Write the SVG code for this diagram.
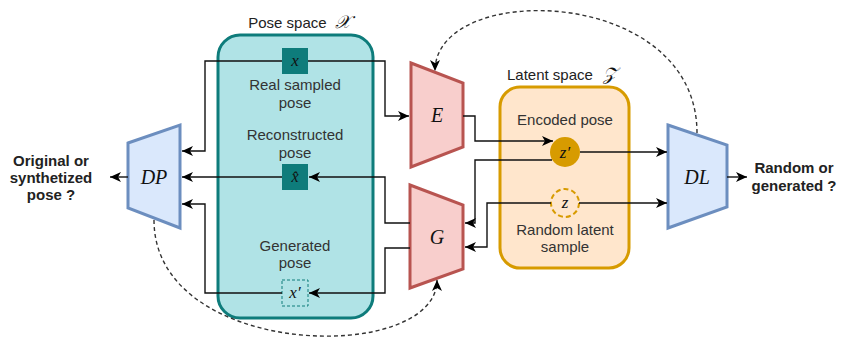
<svg xmlns="http://www.w3.org/2000/svg" width="846" height="344" viewBox="0 0 846 344">
<defs>
<marker id="arr" markerUnits="userSpaceOnUse" markerWidth="12" markerHeight="10" refX="11" refY="5" orient="auto">
<path d="M0,0 L11,5 L0,10 L3,5 Z" fill="#000"/>
</marker>
</defs>
<style>
.lbl{font-family:"Liberation Sans",Arial,sans-serif;font-size:15px;fill:#333;text-anchor:middle}
.ttl{font-family:"Liberation Sans",Arial,sans-serif;font-size:15px;fill:#222;text-anchor:middle}
.out{font-family:"Liberation Sans",Arial,sans-serif;font-size:15px;font-weight:bold;fill:#222;text-anchor:middle}
.math{font-family:"Liberation Serif","Times New Roman",serif;font-style:italic;fill:#111;text-anchor:middle}
.red{fill:#f8cecc;stroke:#b85450;stroke-width:3}
.blue{fill:#dae8fc;stroke:#6c8ebf;stroke-width:3}
.edge{fill:none;stroke:#111;stroke-width:1.4;marker-end:url(#arr)}
.dash{fill:none;stroke:#333;stroke-width:1.4;stroke-dasharray:4 3;marker-end:url(#arr)}
</style>

<g id="pose-space">
<rect x="218" y="35" width="155" height="283" rx="22" fill="#b0e3e6" stroke="#0e7c7b" stroke-width="3"/>
<text class="ttl" x="299" y="28">Pose space <tspan class="math" font-size="18" dx="4">𝒳</tspan></text>
<text class="lbl" x="295" y="90">Real sampled</text>
<text class="lbl" x="295" y="108">pose</text>
<text class="lbl" x="295" y="140">Reconstructed</text>
<text class="lbl" x="295" y="158">pose</text>
<text class="lbl" x="295" y="251">Generated</text>
<text class="lbl" x="295" y="268">pose</text>
</g>

<g id="latent-space">
<rect x="500" y="87" width="129" height="181" rx="20" fill="#ffe6cc" stroke="#d79b00" stroke-width="3"/>
<text class="ttl" x="562" y="80">Latent space <tspan class="math" font-size="18" dx="6">𝒵</tspan></text>
<text class="lbl" x="565" y="125">Encoded pose</text>
<text class="lbl" x="565" y="235">Random latent</text>
<text class="lbl" x="565" y="252">sample</text>
</g>

<g id="node-x">
<rect x="282" y="48" width="26" height="26" fill="#0e7c7b"/>
<text class="math" x="295" y="66" font-size="17">x</text>
</g>
<g id="node-xhat">
<rect x="282" y="164" width="26" height="26" fill="#0e7c7b"/>
<text class="math" x="295" y="182" font-size="16" font-family="DejaVu Serif, serif">x̂</text>
</g>
<g id="node-xprime">
<rect x="282" y="280" width="26" height="26" fill="none" stroke="#0e7c7b" stroke-width="1" stroke-dasharray="3 2"/>
<text class="math" x="295" y="298" font-size="17">x′</text>
</g>

<g id="node-zprime">
<circle cx="565" cy="152" r="15" fill="#d79b00"/>
<text class="math" x="565" y="158" font-size="17">z′</text>
</g>
<g id="node-z">
<circle cx="565" cy="203" r="14" fill="#ffe6cc" stroke="#d79b00" stroke-width="2" stroke-dasharray="5 3"/>
<text class="math" x="565" y="208" font-size="17">z</text>
</g>

<g id="node-E">
<polygon class="red" points="411,63 463,83 463,147 411,167"/>
<text class="math" x="437" y="122" font-size="20">E</text>
</g>
<g id="node-G">
<polygon class="red" points="410,185 463,205 463,269 410,288"/>
<text class="math" x="437" y="244" font-size="20">G</text>
</g>
<g id="node-DP">
<polygon class="blue" points="128,143 180,125 180,228 128,208"/>
<text class="math" x="154" y="184" font-size="20">DP</text>
</g>
<g id="node-DL">
<polygon class="blue" points="668,125 727,145 727,207 668,228"/>
<text class="math" x="697" y="184" font-size="20">DL</text>
</g>

<g id="out-DP">
<text class="out" x="51" y="166">Original or</text>
<text class="out" x="51" y="183">synthetized</text>
<text class="out" x="51" y="200">pose ?</text>
</g>
<g id="out-DL">
<text class="out" x="794" y="173">Random or</text>
<text class="out" x="794" y="191">generated ?</text>
</g>

<g id="connectors">
<path class="edge" d="M282,61 H205 V151 H182"/>
<path class="edge" d="M308,61 H385 V116 H409"/>
<path class="edge" d="M463,116 H475 V141 H553"/>
<path class="edge" d="M552,160 H475 V223 H465"/>
<path class="edge" d="M580,152 H667"/>
<path class="edge" d="M551,203 H487 V247 H465"/>
<path class="edge" d="M579,203 H667"/>
<path class="edge" d="M410,223 H385 V177 H309"/>
<path class="edge" d="M282,177 H182"/>
<path class="edge" d="M410,248 H385 V293 H309"/>
<path class="edge" d="M282,293 H205 V204 H182"/>
<path class="edge" d="M128,177 H110"/>
<path class="edge" d="M727,177 H747"/>
<path class="dash" d="M697,133 C697,-15 435,-20 435,71"/>
<path class="dash" d="M154,220 C154,360 437,365 437,280"/>
</g>
</svg>
